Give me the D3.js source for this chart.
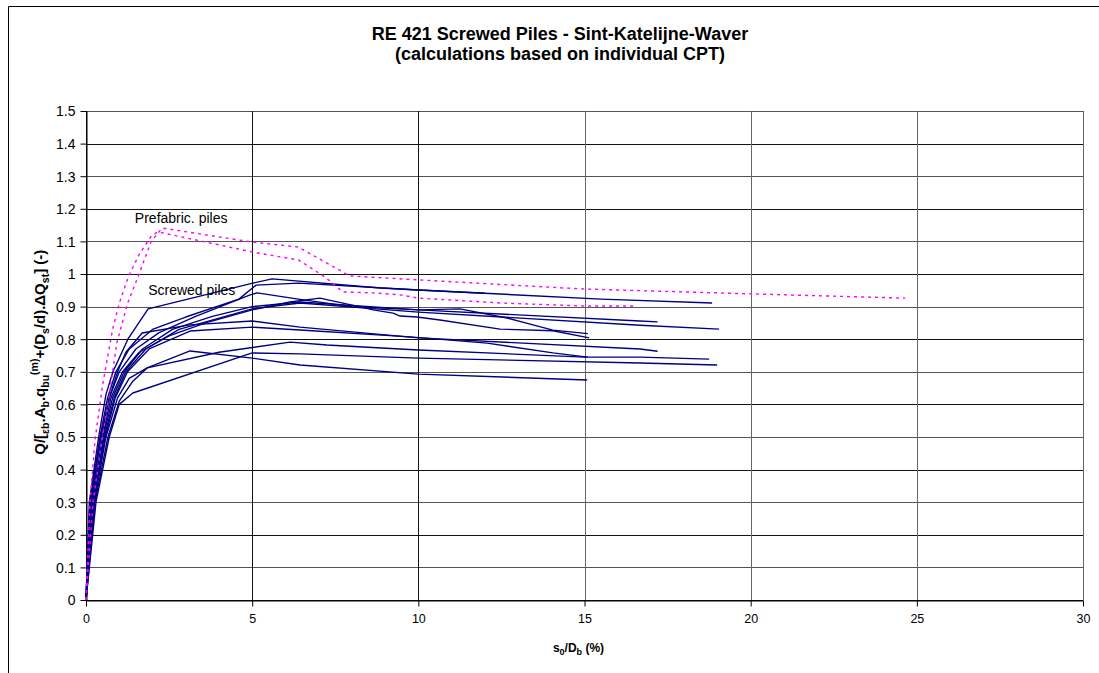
<!DOCTYPE html>
<html>
<head>
<meta charset="utf-8">
<script src="https://cdn.jsdelivr.net/npm/d3@7"></script>
<style>
  body { margin: 0; background: #fff; }
  text { font-family: "Liberation Sans", Arial, sans-serif; }
</style>
</head>
<body>
<div id="chart"></div>
<script>
const titleLines = ["RE 421 Screwed Piles - Sint-Katelijne-Waver", "(calculations based on individual CPT)"];
const xTicks = [0, 5, 10, 15, 20, 25, 30];
const yTicks = [0, 0.1, 0.2, 0.3, 0.4, 0.5, 0.6, 0.7, 0.8, 0.9, 1, 1.1, 1.2, 1.3, 1.4, 1.5];

// prefabricated piles (dotted magenta)
const prefab1 = [[0,0],[0.12,0.3],[0.27,0.49],[0.5,0.66],[0.8,0.83],[1.0,0.91],[1.27,0.99],[1.6,1.06],[1.99,1.12],[2.17,1.129],[5.03,1.067],[6.4,1.043],[7.2,0.99],[7.73,0.945],[8.64,0.942],[9.45,0.936],[10,0.926],[11,0.92],[12.5,0.911],[15,0.902],[16.5,0.902]];
const prefab2 = [[0,0],[0.21,0.3],[0.48,0.49],[0.7,0.63],[0.93,0.79],[1.25,0.91],[1.56,0.99],[1.96,1.1],[2.29,1.141],[5.0,1.098],[6.38,1.083],[7.94,0.994],[10,0.982],[14.4,0.957],[15,0.954],[20,0.939],[24.65,0.926]];

// screwed piles (solid navy)
const screw1 = [[0,0],[0.1,0.3],[0.38,0.5],[0.6,0.63],[0.81,0.7],[1.26,0.8],[1.87,0.893],[5.02,0.972],[5.6,0.985],[8.85,0.957],[10,0.951],[15.5,0.923],[18.84,0.911]];
const screw2 = [[0,0],[0.12,0.3],[0.42,0.5],[0.65,0.62],[0.9,0.7],[1.3,0.77],[2.0,0.83],[3.0,0.868],[4.6,0.923],[5.12,0.966],[6.4,0.972],[10,0.951],[12,0.941]];
const screw3 = [[0,0],[0.14,0.3],[0.45,0.5],[0.7,0.62],[1.0,0.7],[1.5,0.77],[2.2,0.82],[3.3,0.87],[4.94,0.936],[5.15,0.942],[6.44,0.922],[8,0.9],[10.05,0.89],[11.25,0.893],[12.67,0.865],[13.45,0.844],[14.05,0.828],[15.1,0.817]];
const screw4 = [[0,0],[0.16,0.3],[0.5,0.5],[0.75,0.62],[1.1,0.7],[1.6,0.76],[2.5,0.81],[3.6,0.85],[5.0,0.89],[6.14,0.914],[7.04,0.926],[8.25,0.899],[8.64,0.89],[9.24,0.88],[9.45,0.871],[9.96,0.868],[10.65,0.859],[12.46,0.831],[14.05,0.826],[15.14,0.804]];
const screw5 = [[0,0],[0.18,0.3],[0.52,0.5],[0.8,0.62],[1.15,0.7],[1.7,0.77],[2.6,0.83],[3.8,0.87],[5.0,0.9],[6.44,0.914],[10,0.89],[16.67,0.856],[17.2,0.853]];
const screw6 = [[0,0],[0.2,0.3],[0.55,0.5],[0.85,0.62],[1.2,0.7],[1.8,0.77],[2.8,0.83],[5.0,0.893],[6.44,0.911],[10,0.883],[16.67,0.843],[19.05,0.831]];
const screw7 = [[0,0],[0.12,0.3],[0.45,0.5],[0.7,0.62],[0.95,0.7],[1.2,0.76],[1.69,0.819],[3.13,0.844],[5.0,0.856],[6.44,0.837],[10,0.804],[16.67,0.77],[17.2,0.763]];
const screw8 = [[0,0],[0.22,0.3],[0.58,0.5],[0.88,0.62],[1.25,0.7],[1.9,0.77],[3.13,0.825],[5.0,0.837],[6.44,0.828],[9.75,0.807],[12.07,0.788],[14.05,0.758],[15.1,0.745]];
const screw9 = [[0,0],[0.25,0.3],[0.6,0.5],[0.95,0.62],[1.3,0.68],[1.84,0.712],[4,0.76],[6.14,0.791],[7.25,0.782],[10,0.767],[15,0.745],[16.67,0.745],[18.75,0.739]];
const screw10 = [[0,0],[0.3,0.3],[0.7,0.5],[1.0,0.6],[1.41,0.635],[5.0,0.758],[6.44,0.755],[10,0.742],[16.67,0.727],[18.99,0.721]];
const screw11 = [[0,0],[0.27,0.3],[0.66,0.5],[1.0,0.61],[1.4,0.67],[1.84,0.712],[3.13,0.764],[5.0,0.742],[6.44,0.721],[10,0.693],[15.08,0.675]];

const prefabSeries = [prefab1, prefab2];
const screwSeries = [screw1, screw2, screw3, screw4, screw5, screw6, screw7, screw8, screw9, screw10, screw11];
const annotations = [
  { label: "Prefabric. piles", x: 1.47, y: 1.156 },
  { label: "Screwed piles", x: 1.87, y: 0.935 }
];

const width = 1099, height = 673;
const margin = { top: 111, right: 16, bottom: 73, left: 86 };

const svg = d3.select("#chart").append("svg")
  .attr("width", width)
  .attr("height", height);

// outer frame of the chart
svg.append("path")
  .attr("d", "M8.5," + height + " V6.5 H" + width)
  .attr("fill", "none")
  .attr("stroke", "#000")
  .attr("stroke-width", 1);

const x = d3.scaleLinear().domain([0, 30]).range([margin.left, width - margin.right]);
const y = d3.scaleLinear().domain([0, 1.5]).range([height - margin.bottom, margin.top]);

// grid
svg.append("g")
  .selectAll("line")
  .data(yTicks)
  .join("line")
  .attr("x1", x(0)).attr("x2", x(30))
  .attr("y1", d => Math.round(y(d)) + 0.5)
  .attr("y2", d => Math.round(y(d)) + 0.5)
  .attr("stroke", (d, i) => (i % 2 ? "#555" : "#111"));

svg.append("g")
  .selectAll("line")
  .data(xTicks)
  .join("line")
  .attr("y1", y(0)).attr("y2", y(1.5))
  .attr("x1", d => Math.round(x(d)) + 0.5)
  .attr("x2", d => Math.round(x(d)) + 0.5)
  .attr("stroke", (d, i) => (i > 2 ? "#666" : "#111"));

// axes
const xAxis = svg.append("g")
  .attr("transform", "translate(0," + (Math.round(y(0)) + 0.5) + ")")
  .call(d3.axisBottom(x).tickValues(xTicks).tickSize(6).tickSizeOuter(0).tickPadding(8).tickFormat(d3.format("d")));
const yAxis = svg.append("g")
  .attr("transform", "translate(" + (Math.round(x(0)) + 0.5) + ",0)")
  .call(d3.axisLeft(y).tickValues(yTicks).tickSize(6).tickSizeOuter(0).tickPadding(5).tickFormat(d => d3.format("")(+d.toFixed(1))));
[xAxis, yAxis].forEach(a => {
  a.select(".domain").attr("stroke", "#000");
  a.selectAll(".tick line").attr("stroke", "#000");
  a.selectAll("text")
    .attr("fill", "#000")
    .style("font-family", "'Liberation Sans', Arial, sans-serif");
});
xAxis.selectAll("text").style("font-size", "12.5px");
yAxis.selectAll("text").style("font-size", "14px").attr("dy", "0.35em");

// series
const line = d3.line().x(d => x(d[0])).y(d => y(d[1]));

svg.append("g")
  .selectAll("path")
  .data(screwSeries)
  .join("path")
  .attr("d", line)
  .attr("fill", "none")
  .attr("stroke", "#000080")
  .attr("stroke-width", 1.4)
  .attr("stroke-linejoin", "round");

svg.append("g")
  .selectAll("path")
  .data(prefabSeries)
  .join("path")
  .attr("d", line)
  .attr("fill", "none")
  .attr("stroke", "#ff00ff")
  .attr("stroke-width", 1.4)
  .attr("stroke-dasharray", "3,4");

// labels inside the plot
svg.append("g")
  .selectAll("text")
  .data(annotations)
  .join("text")
  .attr("x", d => x(d.x))
  .attr("y", d => y(d.y))
  .attr("font-size", 14)
  .attr("fill", "#000")
  .text(d => d.label);

// title
svg.append("text")
  .attr("x", 560)
  .attr("y", 40)
  .attr("text-anchor", "middle")
  .attr("font-size", 18)
  .attr("font-weight", "bold")
  .selectAll("tspan")
  .data(titleLines)
  .join("tspan")
  .attr("x", 560)
  .attr("dy", (d, i) => (i ? 20 : 0))
  .text(d => d);

// x axis title: s0/Db (%)
const xt = svg.append("text")
  .attr("x", (x(0) + x(30)) / 2 - 6)
  .attr("y", 652)
  .attr("text-anchor", "middle")
  .attr("font-size", 12)
  .attr("font-weight", "bold");
xt.append("tspan").text("s");
xt.append("tspan").attr("font-size", 9).attr("dy", 3).text("0");
xt.append("tspan").attr("dy", -3).text("/D");
xt.append("tspan").attr("font-size", 9).attr("dy", 3).text("b");
xt.append("tspan").attr("dy", -3).text(" (%)");

// y axis title
const yt = svg.append("text")
  .attr("transform", "translate(45," + y(0.76) + ") rotate(-90)")
  .attr("text-anchor", "middle")
  .attr("font-size", 15)
  .attr("font-weight", "bold");
const parts = [
  ["Q/[", 0], ["ε", 1], ["b", 1], [".A", 0], ["b", 1], [".q", 0], ["bu", 1], ["(m)", 2],
  ["+(D", 0], ["s", 1], ["/d).ΔQ", 0], ["st", 1], ["]  (-)", 0]
];
let level = 0;
parts.forEach(([t, k]) => {
  const off = k === 1 ? 4 : k === 2 ? -7 : 0;
  yt.append("tspan")
    .attr("font-size", k ? 10.5 : 15)
    .attr("dy", off - level)
    .text(t);
  level = off;
});
</script>
</body>
</html>
